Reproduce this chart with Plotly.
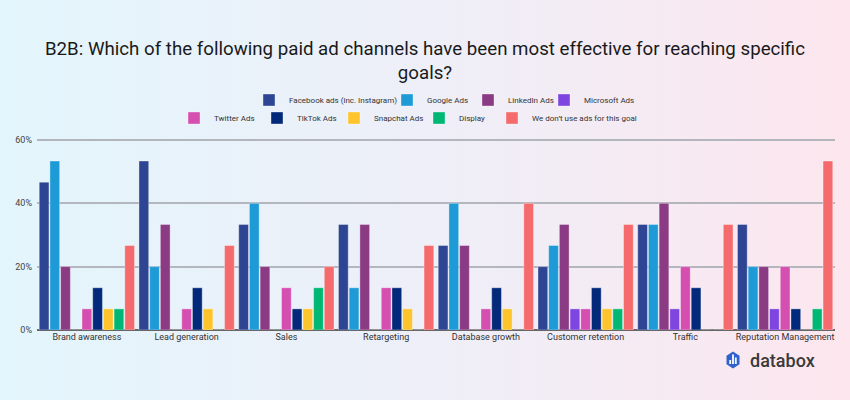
import base64
import plotly.graph_objects as go

categories = ["Brand awareness", "Lead generation", "Sales", "Retargeting",
              "Database growth", "Customer retention", "Traffic", "Reputation Management"]

series_names = ["Facebook ads (inc. Instagram)", "Google Ads", "LinkedIn Ads", "Microsoft Ads",
                "Twitter Ads", "TikTok Ads", "Snapchat Ads", "Display",
                "We don\u2019t use ads for this goal"]

facebook = [46.67, 53.33, 33.33, 33.33, 26.67, 20.0, 33.33, 33.33]
google = [53.33, 20.0, 40.0, 13.33, 40.0, 26.67, 33.33, 20.0]
linkedin = [20.0, 33.33, 20.0, 33.33, 26.67, 33.33, 40.0, 20.0]
microsoft = [0, 0, 0, 0, 0, 6.67, 6.67, 6.67]
twitter = [6.67, 6.67, 13.33, 13.33, 6.67, 6.67, 20.0, 20.0]
tiktok = [13.33, 13.33, 6.67, 13.33, 13.33, 13.33, 13.33, 6.67]
snapchat = [6.67, 6.67, 6.67, 6.67, 6.67, 6.67, 0, 0]
display = [6.67, 0, 13.33, 0, 0, 6.67, 0, 6.67]
no_ads = [26.67, 26.67, 20.0, 26.67, 40.0, 33.33, 33.33, 53.33]

series_values = [facebook, google, linkedin, microsoft, twitter, tiktok, snapchat, display, no_ads]
colors = ["#2E4593", "#1E9BD7", "#8B3A84", "#7E45E0", "#D44FB0", "#032A7A", "#FDC42C", "#00B874", "#F56A6D"]

tick_vals = [0, 20, 40, 60]
tick_text = ["0%", "20%", "40%", "60%"]

# legend entry positions (swatch left x, row centre y) in pixels
legend_pos = [(265, 100), (403, 100), (484, 100), (560, 100),
              (190, 118), (273, 118), (350, 118), (435, 118), (508, 118)]

L, R, T, B = 37, 15, 138, 70
PW, PH = 850 - L - R, 400 - T - B


def px(x):
    return (x - L) / PW


def py(y):
    return (400 - B - y) / PH


fig = go.Figure()
legend_layouts = {}
for i, (name, vals, col) in enumerate(zip(series_names, series_values, colors)):
    lid = "legend" if i == 0 else "legend%d" % (i + 1)
    fig.add_trace(go.Bar(
        x=categories, y=vals, name=name, legend=lid,
        marker=dict(color=col, line=dict(color="rgba(255,255,255,0.35)", width=1)),
    ))
    sx, sy = legend_pos[i]
    legend_layouts[lid] = dict(orientation="h", x=px(sx - 16), xanchor="left",
                               y=py(sy), yanchor="middle",
                               font=dict(size=8, color="#333"),
                               bgcolor="rgba(0,0,0,0)", itemwidth=30)

# background gradient via SVG data URI
svg = ('<svg xmlns="http://www.w3.org/2000/svg" width="850" height="400" preserveAspectRatio="none">'
       '<defs><linearGradient id="g" x1="0" y1="0" x2="1" y2="0">'
       '<stop offset="0" stop-color="#E3F5FC"/><stop offset="0.5" stop-color="#EEEFF8"/>'
       '<stop offset="1" stop-color="#FDE6EE"/></linearGradient></defs>'
       '<rect width="850" height="400" fill="url(#g)"/></svg>')
uri = "data:image/svg+xml;base64," + base64.b64encode(svg.encode()).decode()

# databox logo hexagon
cx, cy = 733, 360
hw, hh = 6.5, 8.5
hex_path = "M {},{} L {},{} L {},{} L {},{} L {},{} L {},{} Z".format(
    px(cx), py(cy - hh), px(cx + hw), py(cy - hh / 2), px(cx + hw), py(cy + hh / 2),
    px(cx), py(cy + hh), px(cx - hw), py(cy + hh / 2), px(cx - hw), py(cy - hh / 2))
shapes = [dict(type="path", path=hex_path, xref="paper", yref="paper",
               fillcolor="#2F62CC", line=dict(width=0), layer="above")]
for bx, top in [(730.2, 360), (733, 354.5), (735.8, 357.5)]:
    shapes.append(dict(type="rect", xref="paper", yref="paper",
                       x0=px(bx - 0.9), x1=px(bx + 0.9), y0=py(364), y1=py(top),
                       fillcolor="white", line=dict(width=0), layer="above"))

fig.update_layout(
    width=850, height=400,
    margin=dict(l=L, r=R, t=T, b=B),
    paper_bgcolor="rgba(0,0,0,0)", plot_bgcolor="rgba(0,0,0,0)",
    font=dict(family="Roboto, sans-serif", color="#333"),
    title=dict(text="B2B: Which of the following paid ad channels have been most effective for reaching specific<br>goals?",
               x=0.5, xanchor="center", xref="container", y=1 - 55 / 400, yanchor="middle",
               font=dict(size=18.7, color="#1a1a1a", family="Roboto, sans-serif")),
    barmode="group", bargap=0.035, bargroupgap=0.09,
    showlegend=True,
    xaxis=dict(tickfont=dict(size=9, color="#333"), showgrid=False, ticks="",
               showline=False, ticklabelstandoff=0),
    yaxis=dict(range=[0, 60.6], tickvals=tick_vals, ticktext=tick_text,
               tickfont=dict(size=9, color="#444"), showgrid=True, gridcolor="#B4B6BE",
               gridwidth=1.5, zeroline=True, zerolinecolor="#666", zerolinewidth=2,
               ticks="", ticklabelstandoff=4),
    images=[dict(source=uri, xref="paper", yref="paper", x=px(0), y=py(0),
                 sizex=850 / PW, sizey=400 / PH, xanchor="left", yanchor="top",
                 sizing="stretch", layer="below")],
    shapes=shapes,
    annotations=[dict(text="databox", xref="paper", yref="paper", x=px(748), y=py(360),
                      xanchor="left", yanchor="middle", showarrow=False,
                      font=dict(size=18, color="#3a3a3a", family="Roboto, sans-serif", weight=500))],
    **legend_layouts,
)

fig.write_html("out.html", config={"displayModeBar": False},
               post_script="document.body.style.margin='0';")
